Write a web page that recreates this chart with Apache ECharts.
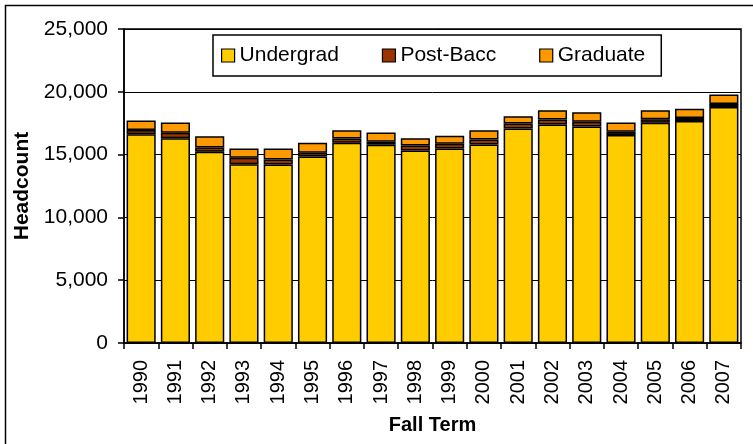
<!DOCTYPE html>
<html>
<head>
<meta charset="utf-8">
<script src="https://cdn.jsdelivr.net/npm/echarts@6/dist/echarts.min.js"></script>
<style>
  html, body { margin: 0; padding: 0; background: #fff; }
  #chart { width: 753px; height: 444px; }
</style>
</head>
<body>
<div id="chart"></div>
<script>
// fall terms
const years = ['1990', '1991', '1992', '1993', '1994', '1995', '1996', '1997', '1998',
  '1999', '2000', '2001', '2002', '2003', '2004', '2005', '2006', '2007']

// headcount by level
const undergrad = [16630, 16310, 15220, 14240, 14215, 14850, 15940, 15780, 15330,
  15490, 15810, 17080, 17400, 17240, 16570, 17530, 17670, 18780]
const postBacc = [320, 420, 350, 500, 400, 290, 350, 240, 400,
  370, 400, 400, 400, 370, 240, 290, 240, 240]
const graduate = [770, 830, 900, 750, 870, 800, 640, 740, 580,
  640, 720, 580, 740, 770, 750, 720, 740, 770]

const yTicks = [0, 5000, 10000, 15000, 20000, 25000]

const FONT = '"Liberation Sans", Arial, sans-serif'

function barSeries(name, data, color) {
  return {
    name: name,
    type: 'bar',
    stack: 'total',
    data: data,
    barCategoryGap: '15%',
    itemStyle: {
      color: color,
      borderColor: '#000',
      borderWidth: 1.5,
    },
  }
}

const chart = echarts.init(document.getElementById('chart'), null, { renderer: 'canvas' })

chart.setOption({
  animation: false,
  backgroundColor: '#fff',
  textStyle: { fontFamily: FONT, color: '#000' },
  graphic: [
    {
      type: 'rect',
      shape: { x: 5.5, y: 5.5, width: 800, height: 500 },
      style: { fill: 'none', stroke: '#000', lineWidth: 1.5 },
      z: 0,
    },
  ],
  grid: {
    left: 124,
    top: 29,
    right: 12,
    bottom: 101,
    show: true,
    borderColor: '#000',
    borderWidth: 1.5,
    backgroundColor: 'transparent',
  },
  legend: {
    left: 213,
    top: 35,
    padding: [10, 16, 10, 8],
    itemGap: 43,
    itemWidth: 13,
    itemHeight: 13,
    icon: 'rect',
    itemStyle: { borderColor: '#000', borderWidth: 1.2 },
    borderColor: '#000',
    borderWidth: 1.5,
    backgroundColor: '#fff',
    textStyle: { fontFamily: FONT, fontSize: 21, color: '#000' },
    data: ['Undergrad', 'Post-Bacc', 'Graduate'],
  },
  xAxis: {
    type: 'category',
    data: years,
    name: 'Fall Term',
    nameLocation: 'middle',
    nameGap: 72,
    nameTextStyle: { fontFamily: FONT, fontSize: 20, fontWeight: 'bold', color: '#000' },
    axisLine: { lineStyle: { color: '#000', width: 1.5 } },
    axisTick: { show: true, alignWithLabel: false, length: 6, lineStyle: { color: '#000', width: 1.5 } },
    axisLabel: { rotate: 90, margin: 17, fontSize: 20, color: '#000', fontFamily: FONT },
  },
  yAxis: {
    type: 'value',
    min: yTicks[0],
    max: yTicks[yTicks.length - 1],
    interval: yTicks[1] - yTicks[0],
    name: 'Headcount',
    nameLocation: 'middle',
    nameGap: 87,
    nameRotate: 90,
    nameTextStyle: { fontFamily: FONT, fontSize: 21, fontWeight: 'bold', color: '#000' },
    axisLine: { show: true, lineStyle: { color: '#000', width: 1.5 } },
    axisTick: { show: true, length: 6, lineStyle: { color: '#000', width: 1.5 } },
    axisLabel: {
      margin: 16,
      fontSize: 21,
      color: '#000',
      fontFamily: FONT,
      formatter: v => v.toLocaleString('en-US'),
    },
    splitLine: { show: true, lineStyle: { color: '#000', width: 1 } },
  },
  series: [
    barSeries('Undergrad', undergrad, '#FFCC00'),
    barSeries('Post-Bacc', postBacc, '#993300'),
    barSeries('Graduate', graduate, '#FF9900'),
  ],
})
</script>
</body>
</html>
